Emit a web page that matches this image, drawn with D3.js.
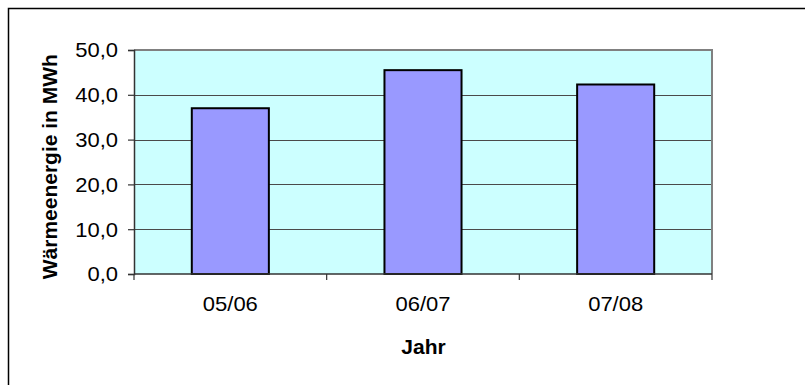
<!DOCTYPE html>
<html><head><meta charset="utf-8">
<script src="https://cdn.jsdelivr.net/npm/d3@7"></script>
<style>html,body{margin:0;padding:0;background:#fff;}svg{display:block;}</style>
</head><body>
<svg id="c" width="805" height="385"></svg>
<script>
const categories = ["05/06", "06/07", "07/08"];
const values = [37.0, 45.5, 42.3];
const yTicks = [0, 10, 20, 30, 40, 50];
const yTitle = "Wärmeenergie in MWh";
const xTitle = "Jahr";

const svg = d3.select("#c");
const L = 134, R = 712, T = 50, B = 274;
const font = "'Liberation Sans', Arial, sans-serif";
const sx = 1.1;

// outer border
svg.append("rect").attr("x", 8.5).attr("y", 8.5).attr("width", 820).attr("height", 400)
  .attr("fill", "#fff").attr("stroke", "#000").attr("stroke-width", 1.5);

const x = d3.scaleBand().domain(categories).range([L, R]).paddingInner(0.6).paddingOuter(0.3);
const y = d3.scaleLinear().domain([0, 50]).range([B, T]);

svg.append("rect").attr("x", L).attr("y", T).attr("width", R - L).attr("height", B - T)
  .attr("fill", "#CCFFFF");

// gridlines
svg.append("g").selectAll("line").data(yTicks.filter(d => d > 0)).join("line")
  .attr("x1", L).attr("x2", R).attr("y1", d => Math.round(y(d)) + 0.5).attr("y2", d => Math.round(y(d)) + 0.5)
  .attr("stroke", "#4a4a4a").attr("stroke-width", 1);

// plot border top/right gray
svg.append("path").attr("d", `M${L},${T}H${R}V${B}`).attr("fill", "none")
  .attr("stroke", "#808080").attr("stroke-width", 2);

// bars
svg.append("g").selectAll("rect").data(values).join("rect")
  .attr("x", (d, i) => x(categories[i])).attr("width", x.bandwidth())
  .attr("y", d => y(d)).attr("height", d => B - y(d))
  .attr("fill", "#9999FF").attr("stroke", "#000").attr("stroke-width", 2);

// y axis
const yAxis = d3.axisLeft(y).tickValues(yTicks).tickSize(6).tickPadding(10)
  .tickFormat(d => d3.format(".1f")(d).replace(".", ","));
const gy = svg.append("g").attr("transform", `translate(${L},0)`).call(yAxis);
gy.select(".domain").attr("stroke", "#333").attr("stroke-width", 1.5);
gy.selectAll(".tick line").attr("stroke", "#333").attr("stroke-width", 1.2);
gy.selectAll(".tick text").attr("font-family", font).attr("font-size", 20).attr("fill", "#000")
  .attr("x", 0).attr("dy", "0.34em").attr("transform", `translate(-16,0) scale(${sx},1)`);

// x axis
const xb = d3.scaleLinear().domain([0, categories.length]).range([L, R]);
const gx = svg.append("g").attr("transform", `translate(0,${B})`);
gx.append("line").attr("x1", L).attr("x2", R).attr("stroke", "#333").attr("stroke-width", 1.5);
gx.selectAll("line.t").data(d3.range(categories.length + 1)).join("line").attr("class", "t")
  .attr("x1", d => xb(d)).attr("x2", d => xb(d)).attr("y1", 0).attr("y2", 6)
  .attr("stroke", "#333").attr("stroke-width", 1.2);
gx.selectAll("text").data(categories).join("text")
  .attr("transform", d => `translate(${x(d) + x.bandwidth() / 2},36.7) scale(${sx},1)`)
  .attr("text-anchor", "middle").attr("font-family", font).attr("font-size", 20).attr("fill", "#000")
  .text(d => d);

// titles
svg.append("text").attr("x", (L + R) / 2 + 0.5).attr("y", 354.3).attr("text-anchor", "middle")
  .attr("font-family", font).attr("font-size", 21).attr("font-weight", "bold").text(xTitle);
svg.append("text").attr("transform", "translate(56.5,166.7) rotate(-90)").attr("text-anchor", "middle")
  .attr("font-family", font).attr("font-size", 21).attr("font-weight", "bold").text(yTitle);
</script>
</body></html>
